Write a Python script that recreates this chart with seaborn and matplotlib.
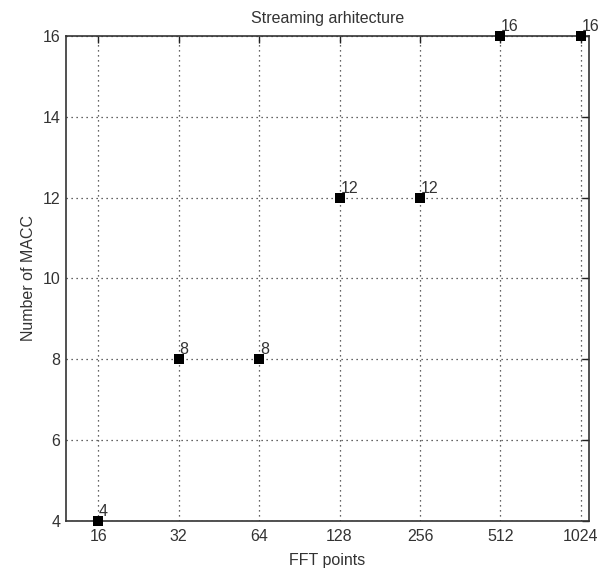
import matplotlib
matplotlib.use("Agg")
import matplotlib.pyplot as plt
import seaborn as sns
import pandas as pd

fft_points = [16, 32, 64, 128, 256, 512, 1024]
macc = [4, 8, 8, 12, 12, 16, 16]
tick_labels = ["16", "32", "64", "128", "256", "512", "1024"]
y_ticks = [4, 6, 8, 10, 12, 14, 16]

sns.set_style("white")
plt.rcParams["font.family"] = ["Liberation Sans", "DejaVu Sans"]

df = pd.DataFrame({"FFT points": fft_points, "MACC": macc})

fig = plt.figure(figsize=(6.15, 5.76), dpi=100)
ax = fig.add_axes([0.1073, 0.0955, 0.8504, 0.842])

sns.scatterplot(data=df, x="FFT points", y="MACC", marker="s", s=62,
                color="black", edgecolor="black", linewidth=0, ax=ax,
                clip_on=False, zorder=5)

ax.set_xscale("log", base=2)
ax.set_xlim(2 ** 3.60, 2 ** 10.1)
ax.set_ylim(4, 16)
ax.set_xticks(fft_points)
ax.set_xticklabels(tick_labels)
ax.xaxis.set_minor_locator(matplotlib.ticker.NullLocator())
ax.set_yticks(y_ticks)
ax.set_yticklabels([str(v) for v in y_ticks])

ax.grid(True, linestyle=(0, (1, 3)), color="#333333", linewidth=0.9)
ax.tick_params(direction="in", length=5, width=1, colors="#222222",
               labelsize=11.5, top=True, right=True, labeltop=False,
               labelright=False, labelcolor="#333333")
ax.tick_params(axis="y", pad=4)
ax.tick_params(axis="x", pad=6)
for sp in ax.spines.values():
    sp.set_color("#333333")
    sp.set_linewidth(1.2)

for x, y in zip(fft_points, macc):
    ax.annotate(str(y), (x, y), xytext=(0.5, 1.5), textcoords="offset points",
                ha="left", va="bottom", fontsize=11.5, color="#333333",
                annotation_clip=False, zorder=6)

ax.set_title("Streaming arhitecture", fontsize=11.5, color="#333333", pad=9)
ax.set_xlabel("FFT points", fontsize=11.5, color="#333333", labelpad=6)
ax.set_ylabel("Number of MACC", fontsize=11.5, color="#333333", labelpad=5)

fig.savefig("out.png", dpi=100, facecolor="white")
